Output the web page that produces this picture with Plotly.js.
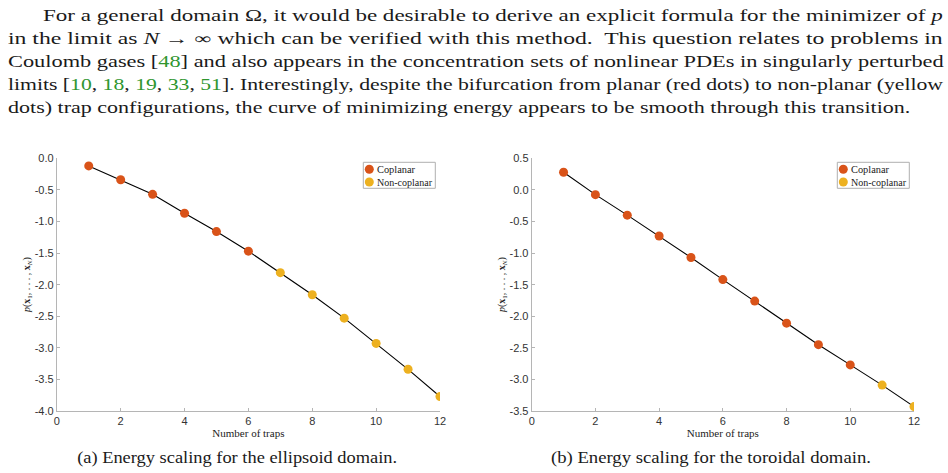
<!DOCTYPE html>
<html>
<head>
<meta charset="utf-8">
<script src="https://cdn.plot.ly/plotly-3.0.1.min.js"></script>
<style>
  html, body { margin: 0; padding: 0; background: #fff; }
  #fig { width: 948px; height: 473px; }
</style>
</head>
<body>
<div id="fig"></div>
<script>
// Number of traps N
const traps = [1, 2, 3, 4, 5, 6, 7, 8, 9, 10, 11, 12];

// Minimal energy p(x_1, ..., x_N) for the ellipsoid domain
const ellipsoidEnergy = [-0.12, -0.34, -0.57, -0.87, -1.16, -1.47, -1.81, -2.16, -2.53, -2.93, -3.34, -3.77];
const ellipsoidConfig = ['Coplanar', 'Coplanar', 'Coplanar', 'Coplanar', 'Coplanar', 'Coplanar',
                         'Non-coplanar', 'Non-coplanar', 'Non-coplanar', 'Non-coplanar', 'Non-coplanar', 'Non-coplanar'];

// Minimal energy p(x_1, ..., x_N) for the toroidal domain
const toroidalEnergy = [0.28, -0.075, -0.40, -0.73, -1.07, -1.42, -1.76, -2.11, -2.45, -2.77, -3.09, -3.43];
const toroidalConfig = ['Coplanar', 'Coplanar', 'Coplanar', 'Coplanar', 'Coplanar', 'Coplanar',
                        'Coplanar', 'Coplanar', 'Coplanar', 'Coplanar', 'Non-coplanar', 'Non-coplanar'];

const configNames = ['Coplanar', 'Non-coplanar'];

// Axis ticks
const xTickVals = [0, 2, 4, 6, 8, 10, 12];
const xTickText = ['0', '2', '4', '6', '8', '10', '12'];
const yTickValsA = [0, -0.5, -1, -1.5, -2, -2.5, -3, -3.5, -4];
const yTickTextA = ['0.0', '-0.5', '-1.0', '-1.5', '-2.0', '-2.5', '-3.0', '-3.5', '-4.0'];
const yTickValsB = [0.5, 0, -0.5, -1, -1.5, -2, -2.5, -3, -3.5];
const yTickTextB = ['0.5', '0.0', '-0.5', '-1.0', '-1.5', '-2.0', '-2.5', '-3.0', '-3.5'];

// Paragraph above the figure and the two sub-captions
const paragraphLines = [
  'For a general domain Ω, it would be desirable to derive an explicit formula for the minimizer of <i>p</i>',
  'in the limit as <i>N</i> → ∞ which can be verified with this method.  This question relates to problems in',
  'Coulomb gases [<span style="color:#2f962f">48</span>] and also appears in the concentration sets of nonlinear PDEs in singularly perturbed',
  'limits [<span style="color:#2f962f">10</span>, <span style="color:#2f962f">18</span>, <span style="color:#2f962f">19</span>, <span style="color:#2f962f">33</span>, <span style="color:#2f962f">51</span>]. Interestingly, despite the bifurcation from planar (red dots) to non-planar (yellow',
  'dots) trap configurations, the curve of minimizing energy appears to be smooth through this transition.'
];
const captions = [
  '(a) Energy scaling for the ellipsoid domain.',
  '(b) Energy scaling for the toroidal domain.'
];

// ---- styling ----
const W = 948, H = 473;
const fx = p => p / W;          // pixel -> paper x
const fy = p => 1 - p / H;      // pixel -> paper y
const colors = { 'Coplanar': '#D95319', 'Non-coplanar': '#EDB120' };
const serif = 'Liberation Serif, Times New Roman, serif';
const sans = 'Liberation Sans, Arial, sans-serif';
const axisGray = '#b5b5b5';

function panelTraces(energy, config, xa, ya) {
  const out = [{
    x: traps, y: energy, xaxis: xa, yaxis: ya,
    mode: 'lines', line: { color: '#000', width: 1.1 },
    hoverinfo: 'skip', showlegend: false
  }];
  configNames.forEach(name => {
    const xs = [], ys = [];
    traps.forEach((n, i) => { if (config[i] === name) { xs.push(n); ys.push(energy[i]); } });
    out.push({
      x: xs, y: ys, xaxis: xa, yaxis: ya, name: name,
      mode: 'markers', marker: { color: colors[name], size: 9, line: { width: 0 } },
      showlegend: false
    });
  });
  return out;
}

const data = [].concat(
  panelTraces(ellipsoidEnergy, ellipsoidConfig, 'x', 'y'),
  panelTraces(toroidalEnergy, toroidalConfig, 'x2', 'y2')
);

function xAxis(domain, anchor) {
  return {
    domain: domain, anchor: anchor, range: [0, 12],
    tickvals: xTickVals, ticktext: xTickText,
    showline: true, linecolor: axisGray, linewidth: 1,
    ticks: 'inside', ticklen: 3, tickcolor: axisGray,
    showgrid: false, zeroline: false,
    tickfont: { family: sans, size: 11, color: '#333' },
    title: { text: 'Number of traps', font: { family: serif, size: 11, color: '#222' }, standoff: 3 }
  };
}
function yAxis(domain, anchor, range, vals, text) {
  return {
    domain: domain, anchor: anchor, range: range,
    tickvals: vals, ticktext: text,
    showline: true, linecolor: axisGray, linewidth: 1,
    ticks: 'inside', ticklen: 3, tickcolor: axisGray,
    showgrid: false, zeroline: false,
    tickfont: { family: sans, size: 11, color: '#333' },
    title: {
      text: '<i>p</i>(<b>x</b><sub>1</sub>, . . . , <b>x</b><sub><i>N</i></sub>)',
      font: { family: serif, size: 10, color: '#222' }, standoff: 2
    }
  };
}

const yDom = [fy(411), fy(158.3)];

const annotations = [];
const stretch = [];   // target widths (px) for justified text lines

const lineStarts = [41, 6, 6, 6, 6];
const lineEnds = [940.7, 940.7, 941.7, 941, 908.3];
const lineCenters = [15.8, 38.6, 61.8, 84.6, 107.6];
paragraphLines.forEach((t, i) => {
  annotations.push({
    xref: 'paper', yref: 'paper', x: fx(lineStarts[i]), y: fy(lineCenters[i]),
    xanchor: 'left', yanchor: 'middle', align: 'left', showarrow: false,
    text: t, font: { family: serif, size: 16, color: '#1a1a1a' }
  });
  stretch.push({ idx: annotations.length - 1, width: lineEnds[i] - lineStarts[i] });
});

const captionCenters = [236.7, 711];
captions.forEach((t, i) => {
  annotations.push({
    xref: 'paper', yref: 'paper', x: fx(captionCenters[i]), y: fy(458),
    xanchor: 'center', yanchor: 'middle', align: 'center', showarrow: false,
    text: t, font: { family: serif, size: 16, color: '#1a1a1a' }
  });
  stretch.push({ idx: annotations.length - 1, width: 320 });
});

// Legend boxes drawn inside each panel
const shapes = [];
const legendLeft = [363.3, 837.3];
const legendRows = [169.3, 182];
legendLeft.forEach(x0 => {
  shapes.push({
    type: 'rect', xref: 'paper', yref: 'paper',
    x0: fx(x0), x1: fx(x0 + 72), y0: fy(188.3), y1: fy(162.3),
    line: { color: '#b0b0b0', width: 1 }, fillcolor: '#fff', layer: 'above'
  });
  configNames.forEach((name, k) => {
    shapes.push({
      type: 'circle', xref: 'paper', yref: 'paper',
      xsizemode: 'pixel', ysizemode: 'pixel',
      xanchor: fx(x0 + 6), yanchor: fy(legendRows[k]),
      x0: -4.5, x1: 4.5, y0: -4.5, y1: 4.5,
      fillcolor: colors[name], line: { width: 0 }, layer: 'above'
    });
    annotations.push({
      xref: 'paper', yref: 'paper', x: fx(x0 + 12), y: fy(legendRows[k]),
      xanchor: 'left', yanchor: 'middle', align: 'left', showarrow: false,
      text: name, font: { family: serif, size: 10, color: '#1a1a1a' }
    });
    stretch.push({ idx: annotations.length - 1, width: k === 0 ? 38 : 55 });
  });
});

const layout = {
  width: W, height: H,
  margin: { l: 0, r: 0, t: 0, b: 0 },
  paper_bgcolor: '#fff', plot_bgcolor: '#fff',
  showlegend: false,
  xaxis: xAxis([fx(56.8), fx(440)], 'y'),
  yaxis: yAxis(yDom, 'x', [-4, 0], yTickValsA, yTickTextA),
  xaxis2: xAxis([fx(531.7), fx(914)], 'y2'),
  yaxis2: yAxis(yDom, 'x2', [-3.5, 0.5], yTickValsB, yTickTextB),
  annotations: annotations,
  shapes: shapes
};

Plotly.newPlot('fig', data, layout, { staticPlot: true }).then(gd => {
  // set each justified line and caption to its column width
  stretch.forEach(s => {
    const t = gd.querySelector('.annotation[data-index="' + s.idx + '"] text.annotation-text');
    if (t) {
      t.setAttribute('textLength', s.width);
      t.setAttribute('lengthAdjust', 'spacingAndGlyphs');
    }
  });
});
</script>
</body>
</html>
